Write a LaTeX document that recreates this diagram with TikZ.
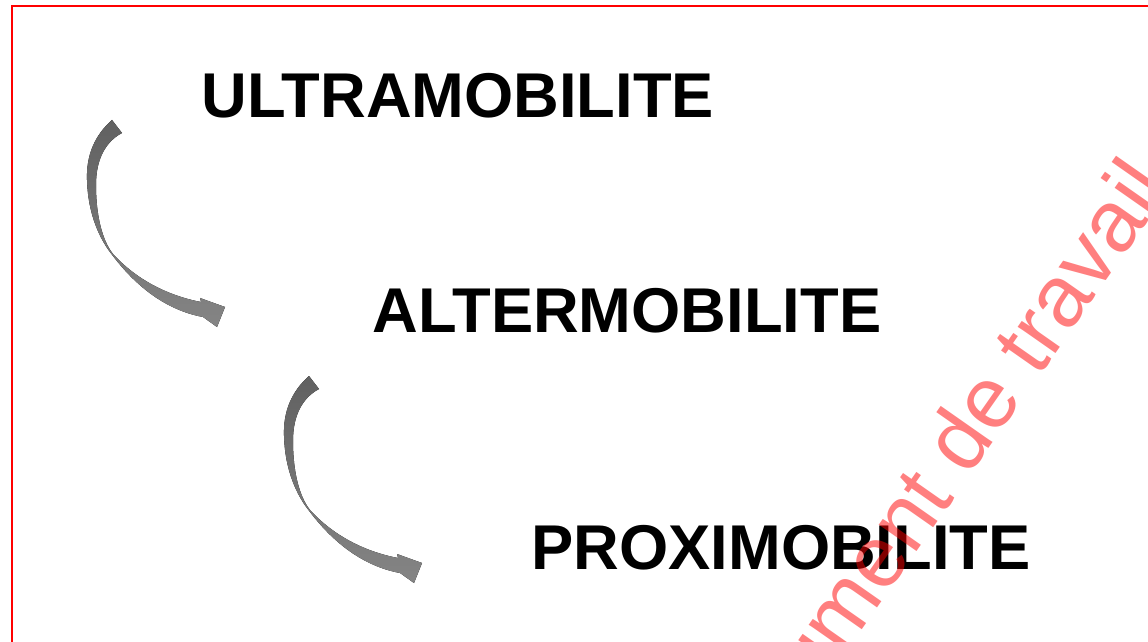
\documentclass[tikz,border=0pt]{standalone}
\usepackage{fontspec}
\setmainfont{Liberation Sans}
\usetikzlibrary{positioning}

\begin{document}
\begin{tikzpicture}[
    x=0.025cm, y=-0.025cm,
    every node/.style={inner sep=0pt},
    % Label styles
    levellabel/.style={font=\fontsize{45}{54}\selectfont\bfseries, text=black},
    watermark/.style={font=\fontsize{62}{74}\selectfont, text=red, text opacity=0.5, rotate=55, anchor=base west},
    % Frame and arrow styles
    frameline/.style={draw=red, line width=0.05cm},
    twistarrow/.pic={
        \fill[top color=black!62, bottom color=black!48]
            (0,0) .. controls (-17,15) and (-26,35) .. (-25,60)
            .. controls (-24,95) and (-12,120) .. (1,136)
            .. controls (23,165) and (53,190) .. (91,197)
            -- (105,207) -- (113,187) -- (88,178) -- (89,182)
            .. controls (53,175) and (23,158) .. (1,134)
            .. controls (-10,120) and (-16,95) .. (-16,65)
            .. controls (-16,40) and (-7,22) .. (10,13) -- cycle;
    }
]

\useasboundingbox (0,0) rectangle (1148,642);
\clip (0,0) rectangle (1148,642);

% Frame (only left and top edges are in view)
\draw[frameline] (12,700) -- (12,6) -- (1200,6);

% Mobility levels
\node[levellabel] (ultra) at (458,96) {ULTRAMOBILITE};
\node[levellabel] (alter) at (627,311) {ALTERMOBILITE};
\node[levellabel] (proxi) at (781,548) {PROXIMOBILITE};

% Curved arrows between levels
\coordinate (arrowA) at (112,120);
\coordinate (arrowB) at (309,376);
\pic at (arrowA) {twistarrow};
\pic at (arrowB) {twistarrow};

% Watermark
\node[watermark] (draft) at (727,823) {Document de travail};

\end{tikzpicture}
\end{document}
